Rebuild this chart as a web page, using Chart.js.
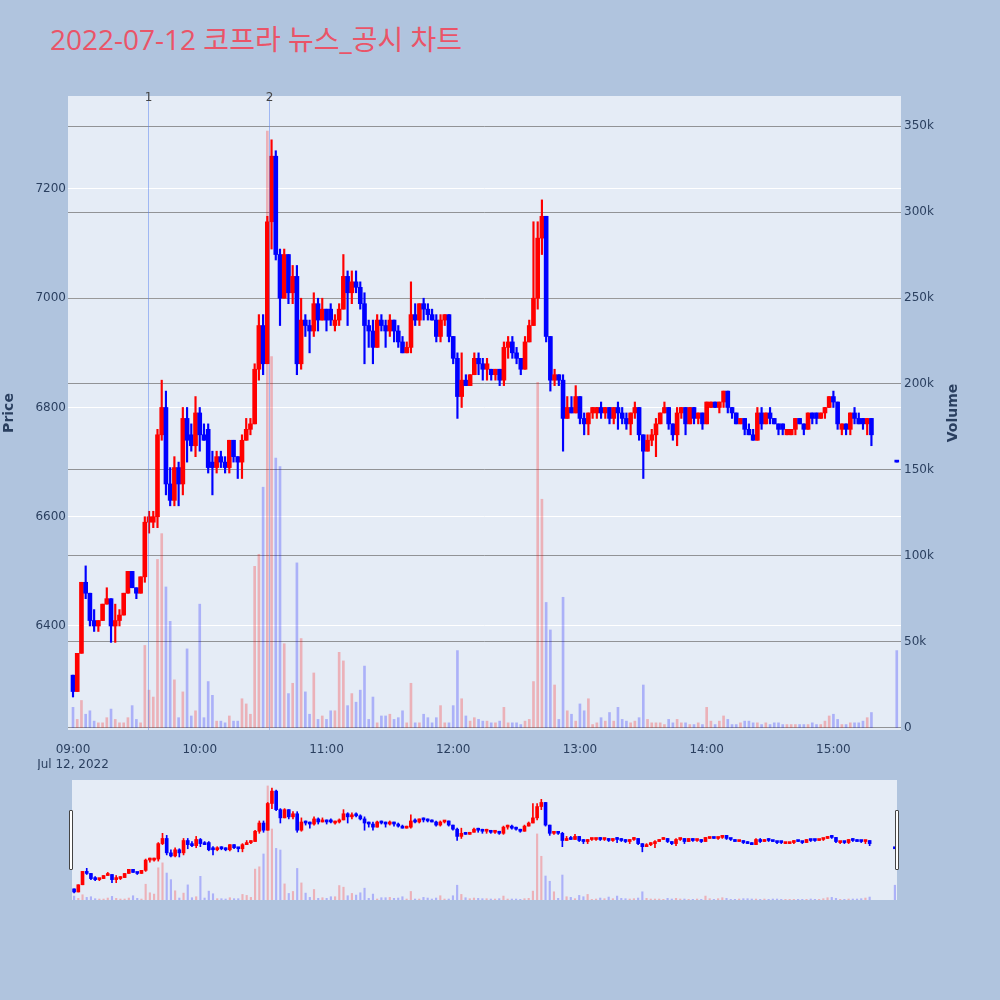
<!DOCTYPE html>
<html>
<head>
<meta charset="utf-8">
<script src="https://cdn.jsdelivr.net/npm/chart.js@4.4.1/dist/chart.umd.min.js"></script>
<style>
  body { margin: 0; width: 1000px; height: 1000px; background: #b0c4de; position: relative; overflow: hidden; }
  #title { position: absolute; left: 50px; top: 22px; font-family: "Open Sans", "Noto Sans CJK KR", sans-serif; font-size: 28px; line-height: 34px; color: #ea5468; white-space: nowrap; }
  #main { position: absolute; left: 0; top: 0; }
  #slider { position: absolute; left: 72px; top: 780px; background: #e5ecf6; }
  .handle { position: absolute; top: 810px; width: 2px; height: 58px; background: #fff; border: 1px solid #444; border-radius: 1px; }
</style>
</head>
<body>
<div id="title">2022-07-12 코프라 뉴스_공시 차트</div>
<canvas id="main" width="1000" height="770"></canvas>
<canvas id="slider" width="825" height="120"></canvas>
<div class="handle" style="left:69px"></div>
<div class="handle" style="left:895px"></div>
<script>
// 2-minute candles from 09:00, the last one is the 15:30 closing auction
const open = [
  6310,6280,6350,6480,6460,6410,6400,6410,6440,6450,
  6400,6410,6420,6460,6500,6470,6460,6490,6590,6590,
  6600,6750,6800,6660,6630,6690,6660,6780,6750,6730,
  6790,6750,6760,6700,6690,6710,6700,6690,6740,6710,
  6700,6740,6760,6770,6870,6950,6880,7140,7260,7080,
  7000,7080,7010,7040,6880,6960,6950,6940,6990,6960,
  6980,6980,6950,6960,6980,7040,7010,7030,7020,6990,
  6950,6940,6910,6960,6950,6940,6960,6940,6920,6900,
  6910,6970,6960,6990,6980,6970,6960,6930,6960,6970,
  6930,6890,6820,6850,6840,6860,6890,6880,6870,6870,
  6860,6870,6850,6910,6920,6900,6890,6870,6920,6950,
  7000,7110,7150,6930,6850,6860,6850,6780,6800,6790,
  6820,6780,6770,6790,6790,6800,6790,6800,6780,6800,
  6790,6780,6770,6790,6800,6750,6720,6740,6750,6770,
  6790,6800,6770,6750,6790,6800,6770,6800,6780,6790,
  6770,6800,6810,6800,6810,6830,6800,6790,6770,6780,
  6760,6750,6740,6790,6770,6790,6780,6770,6770,6750,
  6750,6760,6780,6770,6760,6790,6790,6780,6790,6800,
  6820,6810,6760,6770,6760,6790,6780,6780,6770,6780,
  6700
];
const close = [
  6280,6350,6480,6460,6410,6400,6410,6440,6450,6400,
  6410,6420,6460,6500,6470,6460,6490,6590,6600,6600,
  6750,6800,6660,6630,6690,6660,6780,6740,6730,6790,
  6750,6740,6690,6690,6710,6700,6690,6740,6710,6700,
  6740,6760,6770,6870,6950,6880,7140,7260,7080,7000,
  7080,7010,7040,6880,6960,6950,6940,6990,6960,6980,
  6960,6960,6960,6980,7040,7010,7030,7020,6990,6950,
  6940,6910,6960,6950,6940,6960,6940,6920,6900,6910,
  6970,6960,6990,6980,6970,6960,6930,6960,6970,6930,
  6890,6820,6850,6840,6860,6890,6880,6870,6880,6860,
  6870,6850,6910,6920,6900,6890,6870,6920,6950,7000,
  7110,7150,6930,6850,6860,6850,6780,6800,6790,6820,
  6780,6770,6790,6800,6800,6790,6800,6780,6800,6790,
  6780,6770,6790,6800,6750,6720,6740,6750,6770,6790,
  6800,6770,6750,6790,6800,6770,6800,6780,6790,6770,
  6810,6810,6800,6810,6830,6800,6790,6770,6780,6760,
  6750,6740,6790,6770,6790,6780,6770,6760,6760,6760,
  6760,6780,6770,6760,6790,6780,6780,6790,6800,6820,
  6810,6770,6770,6760,6790,6780,6770,6770,6780,6750,
  6700
];
const high = [
  6310,6350,6480,6510,6460,6430,6410,6440,6470,6450,
  6440,6430,6460,6500,6500,6470,6490,6600,6610,6610,
  6760,6850,6830,6690,6710,6700,6800,6800,6770,6820,
  6800,6770,6770,6720,6720,6720,6710,6740,6740,6710,
  6750,6780,6780,6880,6970,6970,7150,7290,7270,7090,
  7090,7080,7060,7060,7000,6970,6960,7010,7000,7000,
  6980,6990,6970,6990,7080,7050,7050,7050,7030,7010,
  6960,6960,6970,6970,6960,6970,6960,6950,6930,6920,
  7030,6990,6990,7000,6990,6980,6970,6970,6970,6970,
  6930,6900,6900,6860,6860,6900,6900,6890,6890,6870,
  6870,6870,6920,6930,6930,6910,6890,6930,6960,7140,
  7140,7180,7150,6930,6870,6860,6860,6820,6820,6840,
  6820,6790,6790,6800,6800,6810,6800,6800,6800,6810,
  6800,6790,6790,6810,6800,6750,6750,6760,6780,6790,
  6810,6800,6770,6800,6800,6800,6800,6800,6790,6790,
  6810,6810,6810,6810,6830,6830,6800,6790,6780,6780,
  6770,6760,6800,6800,6790,6800,6780,6770,6770,6760,
  6760,6780,6780,6770,6790,6790,6790,6790,6800,6820,
  6830,6810,6770,6770,6790,6800,6790,6780,6780,6780,
  6700
];
const low = [
  6270,6280,6350,6450,6400,6390,6390,6410,6440,6370,
  6370,6400,6420,6460,6470,6450,6460,6480,6570,6580,
  6580,6740,6640,6620,6620,6620,6640,6700,6720,6710,
  6720,6740,6680,6640,6680,6690,6680,6680,6700,6670,
  6670,6740,6750,6770,6850,6860,6880,7090,7070,6950,
  7000,6990,6990,6860,6870,6930,6900,6930,6940,6960,
  6940,6950,6940,6950,6980,6950,6990,7010,6980,6880,
  6910,6880,6910,6940,6910,6930,6920,6910,6900,6900,
  6900,6950,6950,6960,6960,6960,6920,6920,6950,6920,
  6880,6780,6800,6840,6840,6860,6860,6850,6850,6850,
  6850,6840,6840,6890,6890,6880,6860,6870,6920,6950,
  6980,7080,6920,6830,6840,6840,6720,6780,6790,6790,
  6770,6750,6750,6780,6780,6780,6780,6770,6770,6760,
  6770,6760,6750,6780,6740,6670,6720,6730,6710,6770,
  6790,6760,6740,6730,6780,6750,6770,6770,6770,6760,
  6770,6800,6800,6790,6800,6790,6780,6770,6770,6750,
  6750,6740,6740,6760,6770,6770,6770,6750,6750,6750,
  6750,6750,6770,6750,6760,6770,6770,6780,6780,6800,
  6800,6760,6750,6750,6750,6770,6770,6760,6750,6730,
  6700
];
// volume in thousands of shares
const volume = [
  12,5,16,8,10,4,3,3,6,11,
  5,3,3,6,13,5,3,48,22,18,
  98,113,82,62,28,6,21,46,7,10,
  72,6,27,19,4,4,3,7,4,4,
  17,14,8,94,101,140,347,216,157,152,
  49,20,26,96,52,21,8,32,5,7,
  5,10,10,44,39,13,20,15,22,36,
  5,18,3,7,7,8,5,6,10,3,
  26,3,3,8,6,3,6,13,3,3,
  13,45,17,7,4,6,5,4,4,3,
  3,4,12,3,3,3,2,4,5,27,
  201,133,73,57,25,5,76,10,8,4,
  14,10,17,2,3,6,4,9,4,12,
  5,4,3,4,6,25,5,3,3,3,
  2,5,3,5,3,3,2,2,3,2,
  12,4,2,4,7,5,2,2,3,4,
  4,3,3,2,3,2,3,3,2,2,
  2,2,2,2,2,3,2,2,4,7,
  8,5,2,2,3,3,3,4,6,9,
  45
];
const barMinutes = 2;
const closingMinute = 390;
const minutes = open.map((_, i) => i === open.length - 1 ? closingMinute : i * barMinutes);

const tickMinutes = [0, 60, 120, 180, 240, 300, 360];
const tickLabels = ['09:00', '10:00', '11:00', '12:00', '13:00', '14:00', '15:00'];
const dateLabel = 'Jul 12, 2022';
const priceTicks = [6400, 6600, 6800, 7000, 7200];
const volumeTicks = [0, 50000, 100000, 150000, 200000, 250000, 300000, 350000];
const eventMinutes = [35.4, 93];
const eventLabels = ['1', '2'];

const RED = '#ff0000', BLUE = '#0000ff';
const up = close.map((c, i) => c > open[i]);
const candleColor = up.map(u => u ? RED : BLUE);
const volColor = up.map(u => u ? 'rgba(255,0,0,0.25)' : 'rgba(0,0,255,0.25)');

Chart.defaults.font.family = '"DejaVu Sans", Verdana, sans-serif';
Chart.defaults.font.size = 12;
Chart.defaults.color = '#2a3f5f';

function candleDatasets(bodyW, wickW, volW) {
    return [
        {
            yAxisID: 'y', order: 2, grouped: false, barThickness: wickW, minBarLength: 1,
            backgroundColor: candleColor,
            data: minutes.map((m, i) => ({x: m, y: [Math.min(low[i], open[i], close[i]), Math.max(high[i], open[i], close[i])]})),
        },
        {
            yAxisID: 'y', order: 1, grouped: false, barThickness: bodyW, minBarLength: 2,
            backgroundColor: candleColor,
            data: minutes.map((m, i) => ({x: m, y: [Math.min(open[i], close[i]), Math.max(open[i], close[i])]})),
        },
        {
            yAxisID: 'yv', order: 3, grouped: false, barThickness: volW,
            backgroundColor: volColor,
            data: minutes.map((m, i) => ({x: m, y: volume[i] * 1000})),
        },
    ];
}

const plotBg = {
    id: 'plotBg',
    beforeDraw(chart) {
        const {ctx, chartArea: a} = chart;
        ctx.save();
        ctx.fillStyle = '#e5ecf6';
        ctx.fillRect(a.left, a.top, a.right - a.left, a.bottom - a.top);
        ctx.restore();
    }
};

const events = {
    id: 'events',
    afterDatasetsDraw(chart) {
        const {ctx, chartArea: a, scales: {x}} = chart;
        ctx.save();
        eventMinutes.forEach((m, i) => {
            const px = Math.round(x.getPixelForValue(m)) + 0.5;
            ctx.strokeStyle = 'rgba(90,130,240,0.5)';
            ctx.lineWidth = 1;
            ctx.beginPath();
            ctx.moveTo(px, a.top);
            ctx.lineTo(px, a.bottom);
            ctx.stroke();
            ctx.fillStyle = '#444';
            ctx.font = '12px "DejaVu Sans"';
            ctx.textAlign = 'center';
            ctx.textBaseline = 'alphabetic';
            ctx.fillText(eventLabels[i], px, a.top + 5);
        });
        ctx.restore();
    },
    afterDraw(chart) {
        const {ctx, chartArea: a} = chart;
        ctx.save();
        ctx.fillStyle = '#2a3f5f';
        ctx.font = 'bold 14px "DejaVu Sans"';
        ctx.textAlign = 'center';
        ctx.textBaseline = 'middle';
        ctx.translate(953, (a.top + a.bottom) / 2);
        ctx.rotate(-Math.PI / 2);
        ctx.fillText('Volume', 0, 0);
        ctx.restore();
    }
};

new Chart(document.getElementById('main').getContext('2d'), {
    type: 'bar',
    data: {datasets: candleDatasets(4, 1.5, 2)},
    plugins: [plotBg, events],
    options: {
        responsive: false,
        animation: false,
        layout: {padding: {top: 96, right: 35, left: 0, bottom: 0}},
        plugins: {legend: {display: false}, tooltip: {enabled: false}},
        scales: {
            x: {
                type: 'linear', min: -2.37, max: 392, offset: false,
                grid: {display: false}, border: {display: false},
                afterBuildTicks: s => { s.ticks = tickMinutes.map(v => ({value: v})); },
                ticks: {
                    padding: 5, maxRotation: 0, autoSkip: false,
                    callback: (v, i) => i === 0 ? [tickLabels[0], dateLabel] : tickLabels[i],
                },
                afterFit: s => { s.height = 40; },
            },
            y: {
                position: 'left', min: 6209.6, max: 7370.2,
                grid: {color: '#ffffff', drawTicks: false}, border: {display: false},
                afterBuildTicks: s => { s.ticks = priceTicks.map(v => ({value: v})); },
                ticks: {padding: 2, callback: v => String(v)},
                title: {display: true, text: 'Price', font: {weight: 'bold', size: 14}, padding: {top: 1, bottom: 2}},
                afterFit: s => { s.width = 68; },
            },
            yv: {
                position: 'right', min: -1163, max: 367442,
                grid: {color: 'rgba(110,110,110,0.7)', drawTicks: false}, border: {display: false},
                afterBuildTicks: s => { s.ticks = volumeTicks.map(v => ({value: v})); },
                ticks: {padding: 3, callback: v => v === 0 ? '0' : (v / 1000) + 'k'},
                afterFit: s => { s.width = 64; },
            },
        },
    },
});

new Chart(document.getElementById('slider').getContext('2d'), {
    type: 'bar',
    data: {datasets: candleDatasets(3, 1, 1.5)},
    options: {
        responsive: false,
        animation: false,
        layout: {padding: 0},
        plugins: {legend: {display: false}, tooltip: {enabled: false}},
        scales: {
            x: {type: 'linear', min: -1, max: 391, offset: false, display: false},
            y: {min: 6202, max: 7368, display: false},
            yv: {min: 0, max: 365000, display: false},
        },
    },
});
</script>
</body>
</html>
